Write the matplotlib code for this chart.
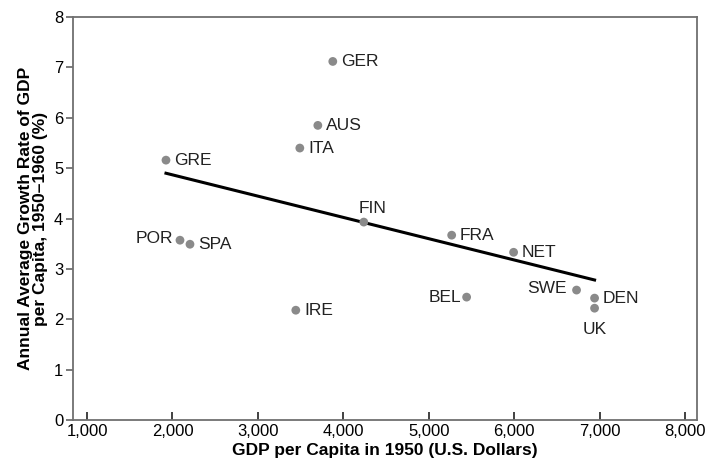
import matplotlib
matplotlib.use('Agg')
import matplotlib.pyplot as plt
from matplotlib.ticker import FuncFormatter

plt.rcParams['font.family'] = ['Liberation Sans', 'DejaVu Sans']

countries = ['GRE', 'GER', 'AUS', 'ITA', 'FIN', 'FRA', 'NET', 'POR', 'SPA',
             'IRE', 'BEL', 'SWE', 'DEN', 'UK']
gdp_1950 = [1924, 3877, 3702, 3491, 4240, 5269, 5994, 2088, 2205,
            3444, 5444, 6731, 6942, 6942]
growth = [5.16, 7.12, 5.85, 5.40, 3.93, 3.67, 3.33, 3.57, 3.49,
          2.18, 2.44, 2.58, 2.42, 2.22]
# label offsets in points (dx, dy) and alignment
label_pos = {'POR': (-5, 1, 'right'), 'BEL': (-4, 0, 'right'),
             'SWE': (-7, 1, 'right'), 'UK': (0, -15, 'center'),
             'FIN': (6, 10, 'center')}

line_x = [1924, 6942]
line_y = [4.90, 2.78]

fig = plt.figure(figsize=(7.05, 4.69), dpi=100)
ax = fig.add_axes([0.1035, 0.1045, 0.885, 0.859])

ax.plot(line_x, line_y, color='black', lw=2.2, zorder=2)
ax.scatter(gdp_1950, growth, s=40, color='#8a8a8a', zorder=3, edgecolors='none')

for c, x, y in zip(countries, gdp_1950, growth):
    dx, dy, ha = label_pos.get(c, (6, 0, 'left'))
    ax.annotate(c, (x, y), xytext=(dx, dy), textcoords='offset points',
                ha=ha, va='center', fontsize=12.5, color='#222222')

ax.set_xlim(835, 8140)
ax.set_ylim(0, 8)
ax.set_xticks(range(1000, 8001, 1000))
ax.set_yticks(range(0, 9))
ax.xaxis.set_major_formatter(FuncFormatter(lambda v, p: f'{int(v):,}'))

for s in ax.spines.values():
    s.set_color('#707070')
    s.set_linewidth(1.3)
ax.tick_params(axis='x', direction='in', length=6, width=1.3, color='#333333',
               labelsize=12, pad=3)
ax.tick_params(axis='y', direction='out', length=5, width=1.3, color='#707070',
               labelsize=12, pad=2)

ax.set_xlabel('GDP per Capita in 1950 (U.S. Dollars)', fontsize=12.5,
              fontweight='bold', labelpad=3)
ax.set_ylabel('Annual Average Growth Rate of GDP\nper Capita, 1950–1960 (%)',
              fontsize=12.5, fontweight='bold', labelpad=4, linespacing=1.0)

fig.savefig('out.png', dpi=100)
